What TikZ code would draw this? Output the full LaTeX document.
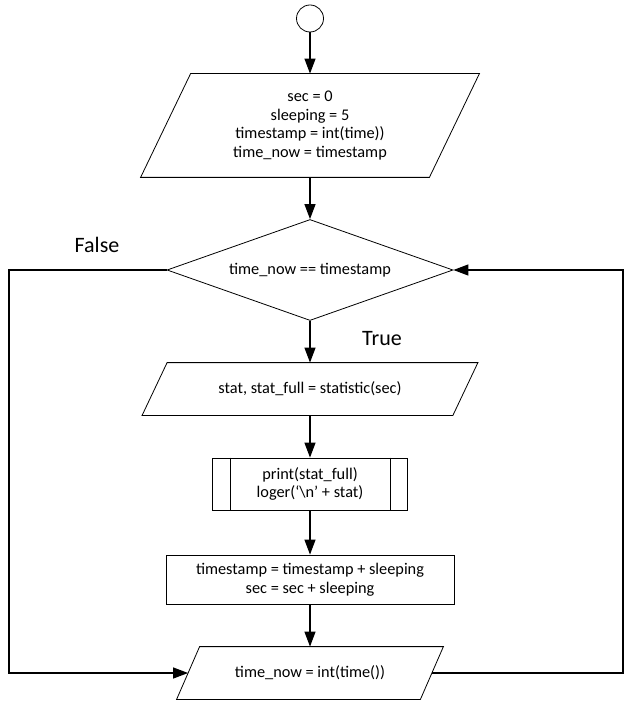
\documentclass[tikz,border=0pt]{standalone}
\usepackage{fontspec}
\setmainfont{Carlito}
\usetikzlibrary{shapes.geometric,arrows.meta}
\tikzset{
  box/.style={draw,line width=0.8pt,align=center,inner sep=0pt,font=\fontsize{16.3}{18.7}\selectfont},
  io/.style={box,draw=none},
  flow/.style={line width=1.2pt,-{Triangle[length=15pt,width=11pt]}},
  lbl/.style={font=\fontsize{22}{26}\selectfont}
}
\begin{document}
\begin{tikzpicture}[x=1pt,y=-1pt]
\useasboundingbox (0,0) rectangle (624,703);
% blocks
\node[draw,line width=0.8pt,circle,minimum size=27pt,inner sep=0pt] (start) at (310,18.5) {};
\node[io,minimum width=288pt,minimum height=103pt] (init) at (310,125.5)
  {sec = 0\\sleeping = 5\\timestamp = int(time))\\time\_now = timestamp};
\node[box,diamond,aspect=2.8,minimum width=286pt,minimum height=101pt] (cond) at (310,270)
  {time\_now == timestamp};
\node[io,minimum width=310pt,minimum height=52pt] (stat) at (310,389)
  {stat, stat\_full = statistic(sec)};
\node[box,minimum width=195pt,minimum height=52pt] (prnt) at (310,484)
  {print(stat\_full)\\loger(‘\textbackslash n’ + stat)};
\draw[line width=0.8pt] ([xshift=18pt]prnt.north west)--([xshift=18pt]prnt.south west);
\draw[line width=0.8pt] ([xshift=-18pt]prnt.north east)--([xshift=-18pt]prnt.south east);
\node[box,minimum width=288pt,minimum height=49pt] (upd) at (310,579.5)
  {timestamp = timestamp + sleeping\\sec = sec + sleeping};
\node[io,minimum width=243pt,minimum height=52pt] (now) at (310,673)
  {time\_now = int(time())};
% parallelogram outlines
\foreach \n/\s in {init/25,stat/12.5,now/11.5}
  \draw[line width=0.8pt] ([xshift=-\s pt]\n.south west)--([xshift=-\s pt]\n.south east)
    --([xshift=\s pt]\n.north east)--([xshift=\s pt]\n.north west)--cycle;
% labels
\node[lbl] (no) at (97,245) {False};
\node[lbl] (yes) at (382,339) {True};
% main line
\draw[flow] (start)--(init);
\draw[flow] (init)--(cond);
\draw[flow] (cond)--(stat);
\draw[flow] (stat)--(prnt);
\draw[flow] (prnt)--(upd);
\draw[flow] (upd)--(now);
% loops
\coordinate (lc) at (9,270);
\coordinate (rc) at (623,673);
\draw[flow] (cond.west)--(lc)|-(now);
\draw[flow] (now)--(rc)|-(cond.east);
\end{tikzpicture}
\end{document}
